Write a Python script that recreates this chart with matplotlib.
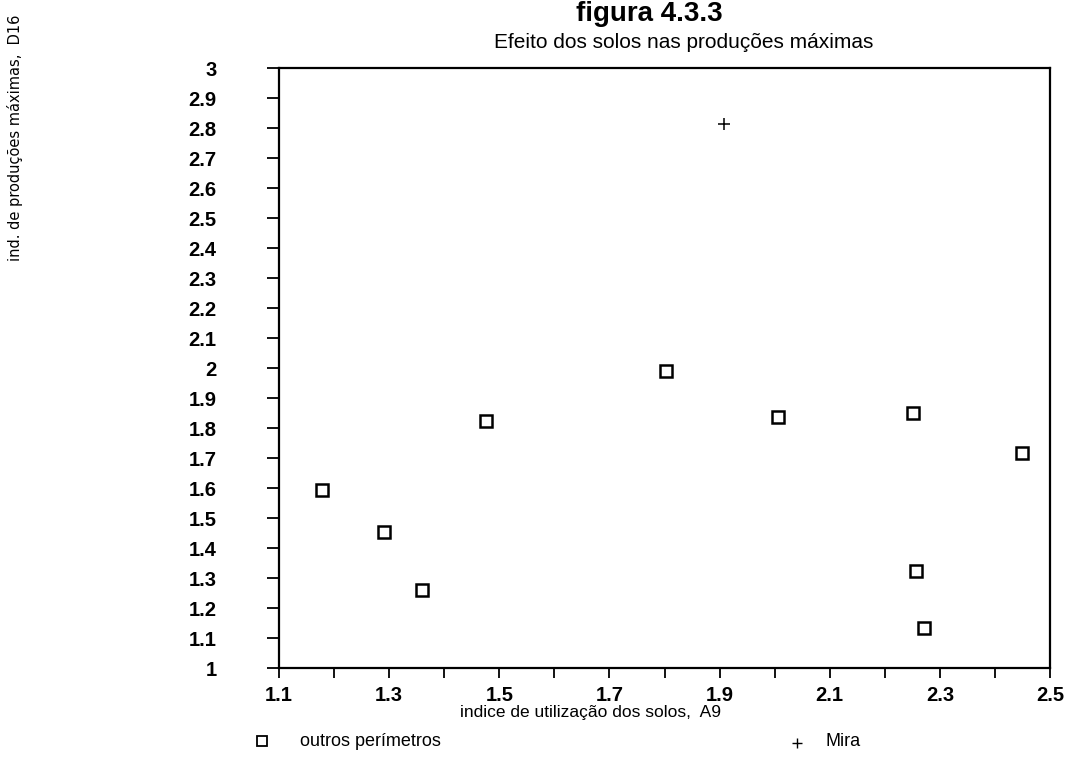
import matplotlib
matplotlib.use("Agg")
import matplotlib.pyplot as plt
from matplotlib.ticker import FixedLocator, FixedFormatter

# --- data ---
outros_x = [1.178, 1.291, 1.360, 1.476, 1.802, 2.007, 2.252, 2.450, 2.256, 2.272]
outros_y = [1.593, 1.453, 1.260, 1.823, 1.990, 1.837, 1.850, 1.717, 1.323, 1.133]
mira_x = [1.908]
mira_y = [2.815]

x_ticks = [1.1, 1.2, 1.3, 1.4, 1.5, 1.6, 1.7, 1.8, 1.9, 2.0, 2.1, 2.2, 2.3, 2.4, 2.5]
x_ticklabels = ["1.1", "", "1.3", "", "1.5", "", "1.7", "", "1.9", "", "2.1", "", "2.3", "", "2.5"]
y_ticks = [1.0, 1.1, 1.2, 1.3, 1.4, 1.5, 1.6, 1.7, 1.8, 1.9, 2.0,
           2.1, 2.2, 2.3, 2.4, 2.5, 2.6, 2.7, 2.8, 2.9, 3.0]
y_ticklabels = ["1", "1.1", "1.2", "1.3", "1.4", "1.5", "1.6", "1.7", "1.8", "1.9", "2",
                "2.1", "2.2", "2.3", "2.4", "2.5", "2.6", "2.7", "2.8", "2.9", "3"]

title = "figura 4.3.3"
subtitle = "Efeito dos solos nas produções máximas"
xlabel = "indice de utilização dos solos,  A9"
ylabel = "ind. de produções máximas,  D16"
legend_outros = "outros perímetros"
legend_mira = "Mira"

plt.rcParams['font.family'] = ['Liberation Sans', 'DejaVu Sans']

W, H = 1068, 774
fig = plt.figure(figsize=(W / 100, H / 100), dpi=100)
ax = fig.add_axes([279 / W, 1 - 668 / H, (1050 - 279) / W, (668 - 68) / H])

ax.plot(outros_x, outros_y, linestyle='none', marker='s', markersize=8.5,
        markerfacecolor='white', markeredgecolor='black', markeredgewidth=1.8)
ax.plot(mira_x, mira_y, linestyle='none', marker='+', markersize=8,
        color='black', markeredgewidth=1.1)

ax.set_xlim(1.1, 2.5)
ax.set_ylim(1.0, 3.0)
ax.xaxis.set_major_locator(FixedLocator(x_ticks))
ax.xaxis.set_major_formatter(FixedFormatter(x_ticklabels))
ax.yaxis.set_major_locator(FixedLocator(y_ticks))
ax.yaxis.set_major_formatter(FixedFormatter(y_ticklabels))

for s in ax.spines.values():
    s.set_linewidth(1.6)
    s.set_color('black')

ax.tick_params(axis='x', direction='out', length=7, width=1.3, pad=6,
               labelsize=14.5, top=False)
ax.tick_params(axis='y', direction='out', length=9, width=1.3, pad=36,
               labelsize=14.5, right=False)
for lab in ax.get_yticklabels():
    lab.set_horizontalalignment('right')
for lab in ax.get_xticklabels() + ax.get_yticklabels():
    lab.set_fontweight('bold')

# titles and labels
fig.text(649 / W, 1 - 1 / H, title, ha='center', va='top',
         fontsize=20, fontweight='bold')
fig.text(684 / W, 1 - 42 / H, subtitle, ha='center', va='center', fontsize=15)
fig.text(591 / W, 1 - 712 / H, xlabel, ha='center', va='center', fontsize=12.5)
fig.text(15 / W, 1 - 138 / H, ylabel, ha='center', va='center', rotation=90,
         fontsize=10.5, family=['DejaVu Sans'])

# legend row
fig.lines.append(plt.Line2D([262 / W], [1 - 741 / H], transform=fig.transFigure,
                            marker='s', markersize=6.5, markerfacecolor='white',
                            markeredgecolor='black', markeredgewidth=1.3,
                            linestyle='none'))
fig.text(300 / W, 1 - 741 / H, legend_outros, ha='left', va='center', fontsize=13)
fig.lines.append(plt.Line2D([797 / W], [1 - 743 / H], transform=fig.transFigure,
                            marker='+', markersize=7, color='black',
                            markeredgewidth=1.0, linestyle='none'))
fig.text(825 / W, 1 - 741 / H, legend_mira, ha='left', va='center', fontsize=13)

fig.savefig("out.png", dpi=100)
